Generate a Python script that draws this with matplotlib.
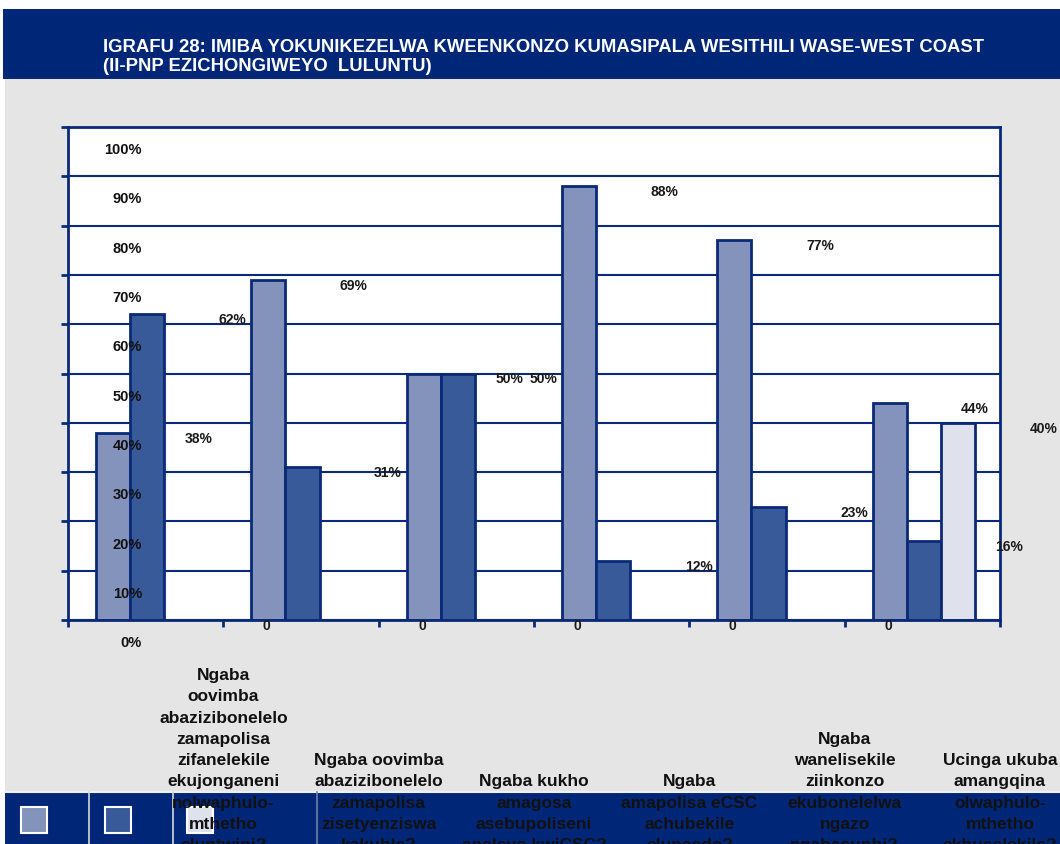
import matplotlib.pyplot as plt
from matplotlib.patches import Rectangle
from matplotlib.lines import Line2D
import matplotlib.transforms as mtransforms
import numpy as np

W, H = 1060, 844

title_lines = [
    "IGRAFU 28: IMIBA YOKUNIKEZELWA KWEENKONZO KUMASIPALA WESITHILI WASE-WEST COAST",
    "(II-PNP EZICHONGIWEYO  LULUNTU)",
]
categories = [
    "Ngaba\noovimba\nabazizibonelelo\nzamapolisa\nzifanelekile\nekujonganeni\nnolwaphulo-\nmthetho\neluntwini?",
    "Ngaba oovimba\nabazizibonelelo\nzamapolisa\nzisetyenziswa\nkakuhle?",
    "Ngaba kukho\namagosa\nasebupoliseni\naneleyo kwiCSC?",
    "Ngaba\namapolisa eCSC\nachubekile\neluncedo?",
    "Ngaba\nwanelisekile\nziinkonzo\nekubonelelwa\nngazo\nngabacuphi?",
    "Ucinga ukuba\namangqina\nolwaphulo-\nmthetho\nakhuselekile?",
]
series_light = [38, 69, 50, 88, 77, 44]
series_dark = [62, 31, 50, 12, 23, 16]
series_pale = [0, 0, 0, 0, 0, 40]
y_ticks = list(range(0, 101, 10))

navy = '#0a2a78'
banner = '#002677'
grey = '#e5e5e5'
colors = ['#8493bb', '#385a99', '#dfe2ed']


def fx(x):
    return x / W


def fy(y):
    return 1 - y / H


fig = plt.figure(figsize=(W / 100, H / 100), dpi=100, facecolor=grey)

# frame pieces: white strips, title banner, bottom band
fig.patches.append(Rectangle((0, fy(9)), 1, 9 / H, transform=fig.transFigure,
                             facecolor='white', edgecolor='none', zorder=-3))
fig.patches.append(Rectangle((0, 0), fx(5), 1, transform=fig.transFigure,
                             facecolor='white', edgecolor='none', zorder=-3))
fig.patches.append(Rectangle((fx(3), fy(79)), 1, 70 / H, transform=fig.transFigure,
                             facecolor=banner, edgecolor='none', zorder=-2))
fig.patches.append(Rectangle((fx(5), 0), 1, fy(792), transform=fig.transFigure,
                             facecolor=banner, edgecolor='none', zorder=-2))
fig.lines.append(Line2D([fx(5), 1], [fy(792), fy(792)], transform=fig.transFigure,
                        color='#f0f0f0', lw=1.5, zorder=-1))
for xl, c in [(89, '#d8d8d8'), (173, '#d8d8d8'), (317, '#6f7fa8')]:
    fig.lines.append(Line2D([fx(xl), fx(xl)], [0, fy(792)], transform=fig.transFigure,
                            color=c, lw=1.2, zorder=-1))

# legend squares
for xs, c in zip([21, 105, 187], colors):
    fig.patches.append(Rectangle((fx(xs), fy(833)), 26 / W, 26 / H,
                                 transform=fig.transFigure, facecolor=c,
                                 edgecolor='white', lw=1.5, zorder=-0.5))

fig.text(fx(103), fy(52), title_lines[0], color='white', fontsize=13.3,
         fontweight='bold', family='Liberation Sans', va='baseline')
fig.text(fx(103), fy(71), title_lines[1], color='white', fontsize=13.3,
         fontweight='bold', family='Liberation Sans', va='baseline')

ax = fig.add_axes([fx(68), fy(620), (1000 - 68) / W, (620 - 127) / H])
ax.set_facecolor('white')
ax.set_xlim(-0.5, 5.5)
ax.set_ylim(0, 100)

x = np.arange(len(categories))
width = 0.22
offsets = [-0.21, 0.01, 0.23]
all_series = [series_light, series_dark, series_pale]
for vals, off, c in zip(all_series, offsets, colors):
    ax.bar(x + off, vals, width, color=c, edgecolor=navy, linewidth=2, zorder=2)
    for xi, v in zip(x, vals):
        lab = f"{v}%" if v else "0"
        ax.text(xi + off + 0.55, v - 1.2, lab, ha='center', va='center',
                fontsize=10, fontweight='bold', family='Liberation Sans',
                color='#1a1a1a', clip_on=False, zorder=4)

ax.set_yticks(y_ticks)
ax.set_xticks(np.arange(-0.5, 6, 1))
ax.tick_params(axis='both', direction='out', length=5, width=2, color=navy,
               labelleft=False, labelbottom=False)
ax.yaxis.grid(True, color=navy, lw=1.5, zorder=1)
ax.set_axisbelow(True)
for s in ax.spines.values():
    s.set_color(navy)
    s.set_linewidth(2)

ytrans = mtransforms.blended_transform_factory(ax.transAxes, ax.transData)
for t in y_ticks:
    ax.text((142 - 68) / 932, t - 4.7, f"{t}%", transform=ytrans, ha='right',
            va='center', fontsize=10.5, fontweight='bold', family='Liberation Sans',
            color='#111111', clip_on=False, zorder=5)

# category labels sit centred on the group boundaries and run into the band
ctrans = mtransforms.blended_transform_factory(ax.transData, fig.transFigure)
for xi, lab in zip(x, categories):
    ax.text(xi + 0.5, fy(853), lab, transform=ctrans, ha='center', va='bottom',
            multialignment='center', fontsize=12.5, fontweight='bold',
            family='Liberation Sans', linespacing=1.52, color='#111111',
            clip_on=False, zorder=6)

fig.savefig('out.png', dpi=100, facecolor=grey)
